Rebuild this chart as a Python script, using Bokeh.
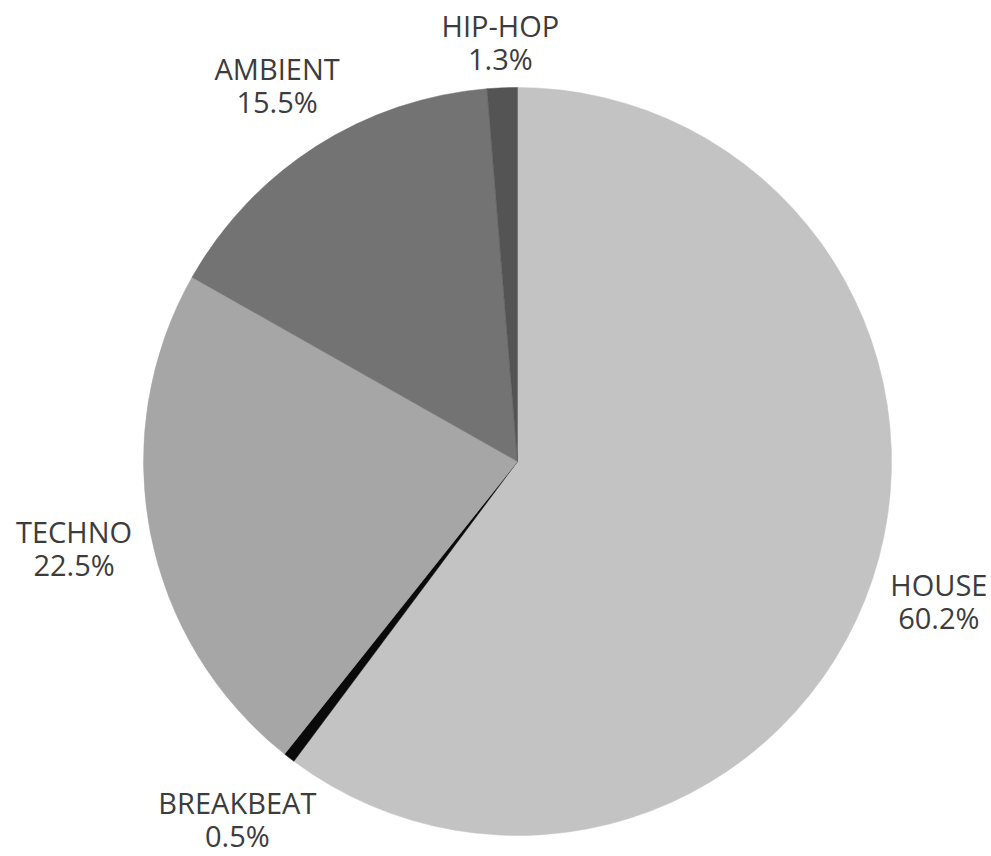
import math
from bokeh.plotting import figure
from bokeh.models import Range1d, ColumnDataSource
from bokeh.core.properties import value
from bokeh.embed import file_html
from bokeh.resources import INLINE

# ---- data (clockwise from 12 o'clock) ----
genres = ["HOUSE", "BREAKBEAT", "TECHNO", "AMBIENT", "HIP-HOP"]
shares = [60.2, 0.5, 22.5, 15.5, 1.3]
colors = ["#c3c3c3", "#0a0a0a", "#a6a6a6", "#737373", "#545454"]

W, H = 991, 856
CX, CY, R = 517, 395, 374
FONT = "Open Sans"
FS = 29
LINE = 33
GAP = 15
BOX_H = 56
EDGE = 21  # keep label lines inside the canvas

# Open Sans advance widths (em) for label box estimation
ADV = {"H": .739, "O": .781, "U": .728, "S": .550, "E": .556, "T": .560, "C": .634,
       "N": .760, "A": .633, "M": .903, "B": .635, "I": .283, "P": .596, "K": .613,
       "-": .322, ".": .266, "%": .820}
def tw(s):
    return sum(ADV.get(ch, .572) for ch in s) * FS

total = sum(shares)
starts, ends, mids = [], [], []
acc = 0.0
for s in shares:
    a0 = math.pi / 2 - 2 * math.pi * acc / total
    acc += s
    a1 = math.pi / 2 - 2 * math.pi * acc / total
    starts.append(a0)
    ends.append(a1)
    mids.append((a0 + a1) / 2)

pcts = [f"{s:.1f}%" for s in shares]
lx, ly1, ly2 = [], [], []
for g, pc, m in zip(genres, pcts, mids):
    w = max(tw(g), tw(pc))
    pad = GAP + abs(math.cos(m)) * w / 2 + abs(math.sin(m)) * BOX_H / 2
    x = CX + (R + pad) * math.cos(m)
    y = CY + (R + pad) * math.sin(m)
    y = min(max(y, EDGE + LINE / 2), H - EDGE - LINE / 2)
    lx.append(x)
    ly1.append(y + LINE / 2)
    ly2.append(y - LINE / 2)

src = ColumnDataSource(dict(start=starts, end=ends, color=colors,
                            lx=lx, ly1=ly1, ly2=ly2, name=genres, pct=pcts))

p = figure(width=W, height=H, x_range=Range1d(0, W), y_range=Range1d(0, H),
           output_backend="svg", toolbar_location=None, min_border=0)
p.axis.visible = False
p.grid.visible = False
p.outline_line_color = None
p.background_fill_color = "white"
p.border_fill_color = "white"

p.wedge(x=CX, y=CY, radius=R, start_angle="start", end_angle="end",
        direction="clock", fill_color="color", line_color="color",
        line_width=0.5, source=src)

for col in ("ly1", "ly2"):
    p.text(x="lx", y=col, text="name" if col == "ly1" else "pct", source=src,
           text_font=value(FONT), text_font_size=f"{FS}px", text_color="#3c3c3c",
           text_align="center", text_baseline="middle")

open("out.html", "w").write(file_html(p, INLINE))
